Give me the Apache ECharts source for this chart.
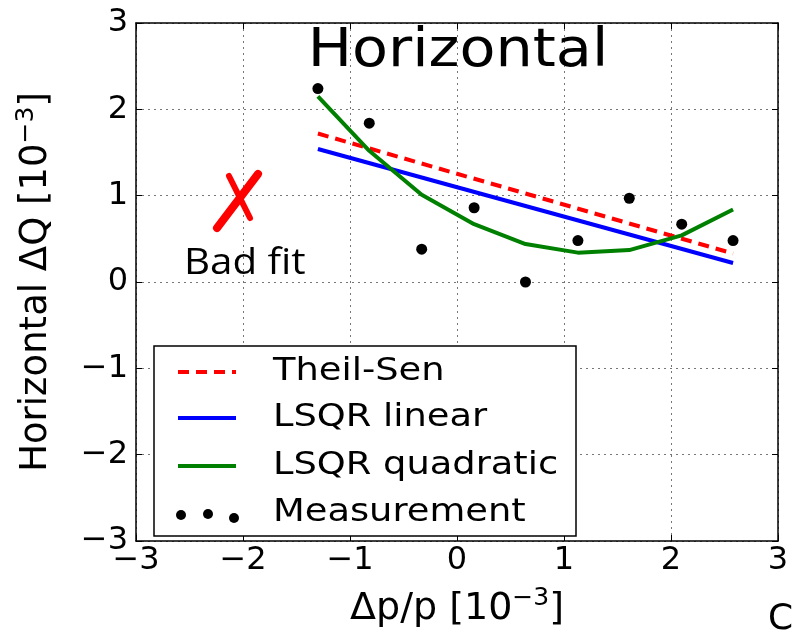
<!DOCTYPE html>
<html><head><meta charset="utf-8">
<script src="https://cdn.jsdelivr.net/npm/echarts@6/dist/echarts.min.js"></script>
<style>html,body{margin:0;padding:0;background:#fff}#c{width:793px;height:633px}</style>
</head><body><div id="c"></div>
<script>
var measX = [-1.30, -0.82, -0.33, 0.16, 0.64, 1.13, 1.61, 2.10, 2.58];
var measY = [2.24, 1.84, 0.38, 0.86, 0.00, 0.48, 0.97, 0.67, 0.48];
var theilX = [-1.30, 2.58];
var theilY = [1.72, 0.33];
var linX = [-1.30, 2.58];
var linY = [1.54, 0.22];
var quadX = [-1.30, -0.82, -0.33, 0.16, 0.64, 1.13, 1.61, 2.10, 2.58];
var quadY = [2.15, 1.52, 1.01, 0.67, 0.44, 0.34, 0.37, 0.54, 0.84];
var ticks = [-3, -2, -1, 0, 1, 2, 3];
var legendNames = ['Theil-Sen', 'LSQR linear', 'LSQR quadratic', 'Measurement'];

function pairs(xs, ys){ return xs.map(function(x,i){return [x, ys[i]];}); }
var FF = 'DejaVu Sans';
var chart = echarts.init(document.getElementById('c'));
function fmt(v){ return v < 0 ? '\u2212' + Math.abs(v) : String(v); }
var axisCommon = {
  type: 'value', min: -3, max: 3, interval: 1,
  axisLine: {show: true, onZero: false, lineStyle: {color: '#000', width: 1.5}},
  axisTick: {show: true, inside: true, length: 6, lineStyle: {color: '#000', width: 1}},
  splitLine: {show: false}
};
var legendY = [372, 418, 466];
var legendColors = ['#ff0000', '#0000ff', '#008000'];
var graphics = [];
graphics.push({type: 'text', x: 458, y: 52, z: 20, scaleX: 1.09, style: {text: 'Horizontal', font: '54px "DejaVu Sans"', fill: '#000', textAlign: 'center', textVerticalAlign: 'middle'}});
graphics.push({type: 'rect', shape: {x: 154, y: 346, width: 422, height: 190}, z: 30, style: {fill: '#fff', stroke: '#000', lineWidth: 1.5}});
for (var i = 0; i < 3; i++) {
  graphics.push({type: 'line', z: 31, shape: {x1: 178, y1: legendY[i], x2: 236, y2: legendY[i]}, style: {stroke: legendColors[i], lineWidth: 4, lineDash: i === 0 ? [11, 7] : null}});
  graphics.push({type: 'text', z: 31, x: 273, y: legendY[i], scaleX: 1.15, style: {text: legendNames[i], font: '32px "DejaVu Sans"', fill: '#000', textVerticalAlign: 'middle'}});
}
[[181, 515], [208, 514], [234, 518]].forEach(function(p){
  graphics.push({type: 'circle', z: 31, shape: {cx: p[0], cy: p[1], r: 5}, style: {fill: '#000'}});
});
graphics.push({type: 'text', z: 31, x: 273, y: 513, scaleX: 1.15, style: {text: legendNames[3], font: '32px "DejaVu Sans"', fill: '#000', textVerticalAlign: 'middle'}});
// annotation
graphics.push({type: 'line', z: 25, shape: {x1: 217, y1: 228, x2: 258, y2: 174}, style: {stroke: '#ff0000', lineWidth: 8, lineCap: 'round'}});
graphics.push({type: 'line', z: 25, shape: {x1: 229, y1: 176, x2: 250, y2: 218}, style: {stroke: '#ff0000', lineWidth: 6, lineCap: 'round'}});
graphics.push({type: 'text', z: 25, x: 184, y: 264, scaleX: 1.12, style: {text: 'Bad fit', font: '36px "Open Sans"', fill: '#000', textVerticalAlign: 'middle'}});
graphics.push({type: 'text', z: 25, x: 768, y: 620, style: {text: 'C', font: '36px "DejaVu Sans"', fill: '#000', textVerticalAlign: 'middle'}});

chart.setOption({
  animation: false,
  backgroundColor: '#fff',
  grid: {left: 136, right: 15, top: 23, bottom: 83, containLabel: false},
  xAxis: [
    Object.assign({}, axisCommon, {
      position: 'bottom',
      axisLabel: {show: true, color: '#000', fontFamily: FF, fontSize: 32, margin: 4, formatter: fmt},
      splitLine: {show: true, lineStyle: {color: '#777', type: [2, 4], width: 1}},
      name: '{a|\u0394p/p [10}{s|\u22123}{a|]}', nameLocation: 'middle', nameGap: 45,
      nameTextStyle: {fontFamily: FF, color: '#000', rich: {a: {fontSize: 38, fontFamily: FF, lineHeight: 46, color: '#000'}, s: {fontSize: 25, fontFamily: FF, verticalAlign: 'top', lineHeight: 25, color: '#000'}}}
    }),
    Object.assign({}, axisCommon, {position: 'top', axisLabel: {show: false}})
  ],
  yAxis: [
    Object.assign({}, axisCommon, {
      position: 'left',
      axisLabel: {show: true, color: '#000', fontFamily: FF, fontSize: 32, margin: 8, formatter: fmt},
      splitLine: {show: true, lineStyle: {color: '#777', type: [2, 4], width: 1}},
      name: '{a|Horizontal \u0394Q [10}{s|\u22123}{a|]}', nameLocation: 'middle', nameGap: 78,
      nameTextStyle: {fontFamily: FF, color: '#000', rich: {a: {fontSize: 37, fontFamily: FF, lineHeight: 44, color: '#000'}, s: {fontSize: 25, fontFamily: FF, verticalAlign: 'top', lineHeight: 25, color: '#000'}}}
    }),
    Object.assign({}, axisCommon, {position: 'right', axisLabel: {show: false}})
  ],
  series: [
    {name: legendNames[0], type: 'line', data: pairs(theilX, theilY), symbol: 'none', lineStyle: {color: '#ff0000', width: 4, type: [11, 7]}, z: 3},
    {name: legendNames[1], type: 'line', data: pairs(linX, linY), symbol: 'none', lineStyle: {color: '#0000ff', width: 4}, z: 3},
    {name: legendNames[2], type: 'line', data: pairs(quadX, quadY), symbol: 'none', lineStyle: {color: '#008000', width: 4}, z: 3},
    {name: legendNames[3], type: 'scatter', data: pairs(measX, measY), symbol: 'circle', symbolSize: 11, itemStyle: {color: '#000', opacity: 1}, z: 4}
  ],
  graphic: graphics
});
</script></body></html>
